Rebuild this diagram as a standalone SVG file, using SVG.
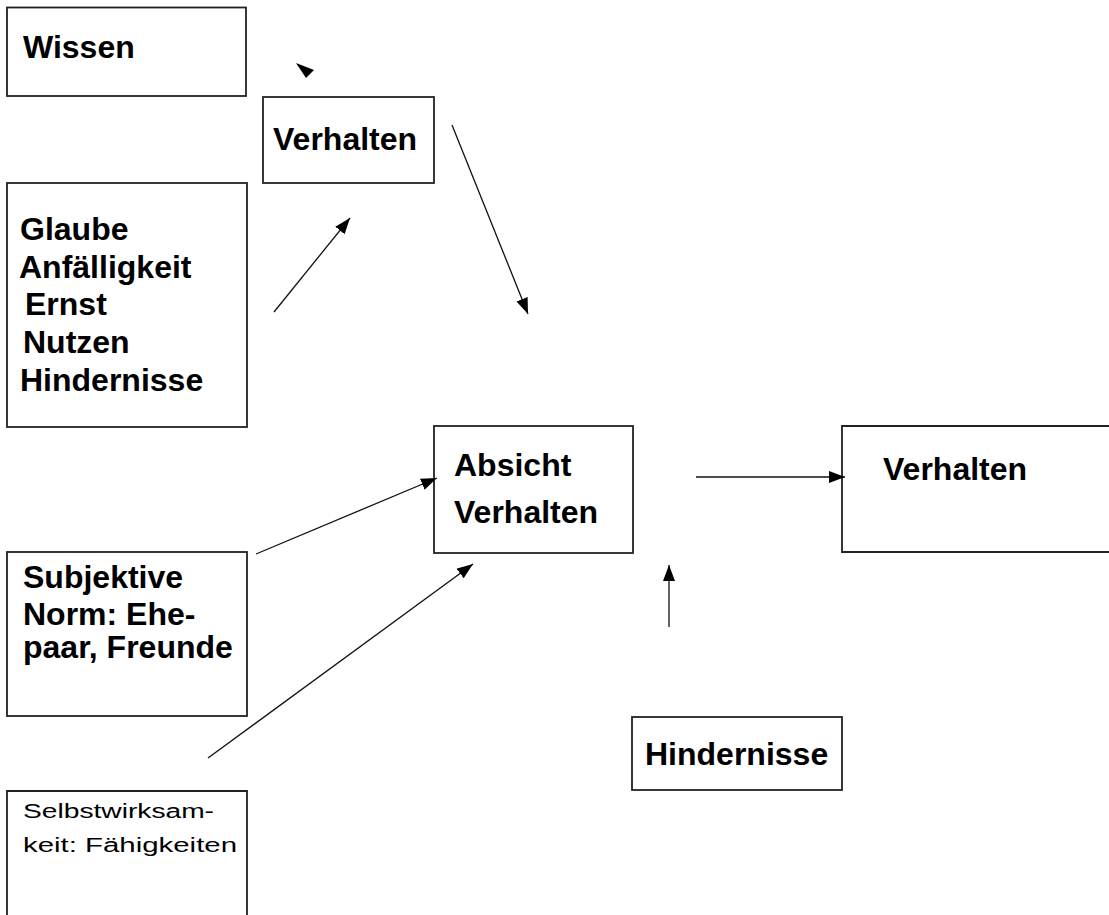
<svg xmlns="http://www.w3.org/2000/svg" width="1109" height="915" viewBox="0 0 1109 915">
<style>
.box{fill:none;stroke:#222;stroke-width:1.8}
.b{font-family:"Liberation Sans",Arial,sans-serif;font-weight:bold;font-size:32px;fill:#000}
.r{font-family:"Liberation Sans",Arial,sans-serif;font-size:20px;fill:#000}
.con{stroke:#111;stroke-width:1.3;fill:none;marker-end:url(#ah)}
</style>
<defs>
<marker id="ah" markerUnits="userSpaceOnUse" markerWidth="16" markerHeight="12" viewBox="0 0 16 12" refX="16" refY="6" orient="auto">
<path d="M0,0 L16,6 L0,12 z" fill="#000"/>
</marker>
</defs>
<rect width="1109" height="915" fill="#fff"/>
<g id="wissen">
<rect class="box" x="7" y="7.5" width="239" height="88.5"/>
<text class="b" x="23" y="58">Wissen</text>
</g>
<g id="verhalten-top">
<rect class="box" x="263" y="97" width="171" height="86"/>
<text class="b" x="273" y="150">Verhalten</text>
</g>
<g id="glaube">
<rect class="box" x="7" y="183" width="240" height="244"/>
<text class="b" x="20" y="240">Glaube</text>
<text class="b" x="19" y="278">Anfälligkeit</text>
<text class="b" x="25" y="315">Ernst</text>
<text class="b" x="23" y="353">Nutzen</text>
<text class="b" x="20" y="391">Hindernisse</text>
</g>
<g id="absicht">
<rect class="box" x="434" y="426" width="199" height="127"/>
<text class="b" x="454" y="476">Absicht</text>
<text class="b" x="454" y="523">Verhalten</text>
</g>
<g id="verhalten-right">
<path class="box" d="M1109,426 H842 V552 H1109"/>
<text class="b" x="883" y="480">Verhalten</text>
</g>
<g id="subjektive">
<rect class="box" x="7" y="552" width="240" height="164"/>
<text class="b" x="23" y="588">Subjektive</text>
<text class="b" x="23" y="625">Norm: Ehe-</text>
<text class="b" x="23" y="658">paar, Freunde</text>
</g>
<g id="hindernisse">
<rect class="box" x="632" y="717" width="210" height="73"/>
<text class="b" x="645" y="765">Hindernisse</text>
</g>
<g id="selbstwirksamkeit">
<path class="box" d="M7,915 V791 H247 V915"/>
<text class="r" x="23" y="818" textLength="191" lengthAdjust="spacingAndGlyphs">Selbstwirksam-</text>
<text class="r" x="23" y="852" textLength="214" lengthAdjust="spacingAndGlyphs">keit: Fähigkeiten</text>
</g>
<g id="connectors">
<polygon points="296,63 314,70 306,78" fill="#000"/>
<line class="con" x1="274" y1="312" x2="350" y2="218"/>
<line class="con" x1="452" y1="125" x2="528" y2="314"/>
<line class="con" x1="256" y1="554" x2="437" y2="478"/>
<line class="con" x1="208" y1="758" x2="473" y2="564"/>
<line class="con" x1="696" y1="477" x2="845" y2="477"/>
<line class="con" x1="669" y1="627" x2="669" y2="565"/>
</g>
</svg>
